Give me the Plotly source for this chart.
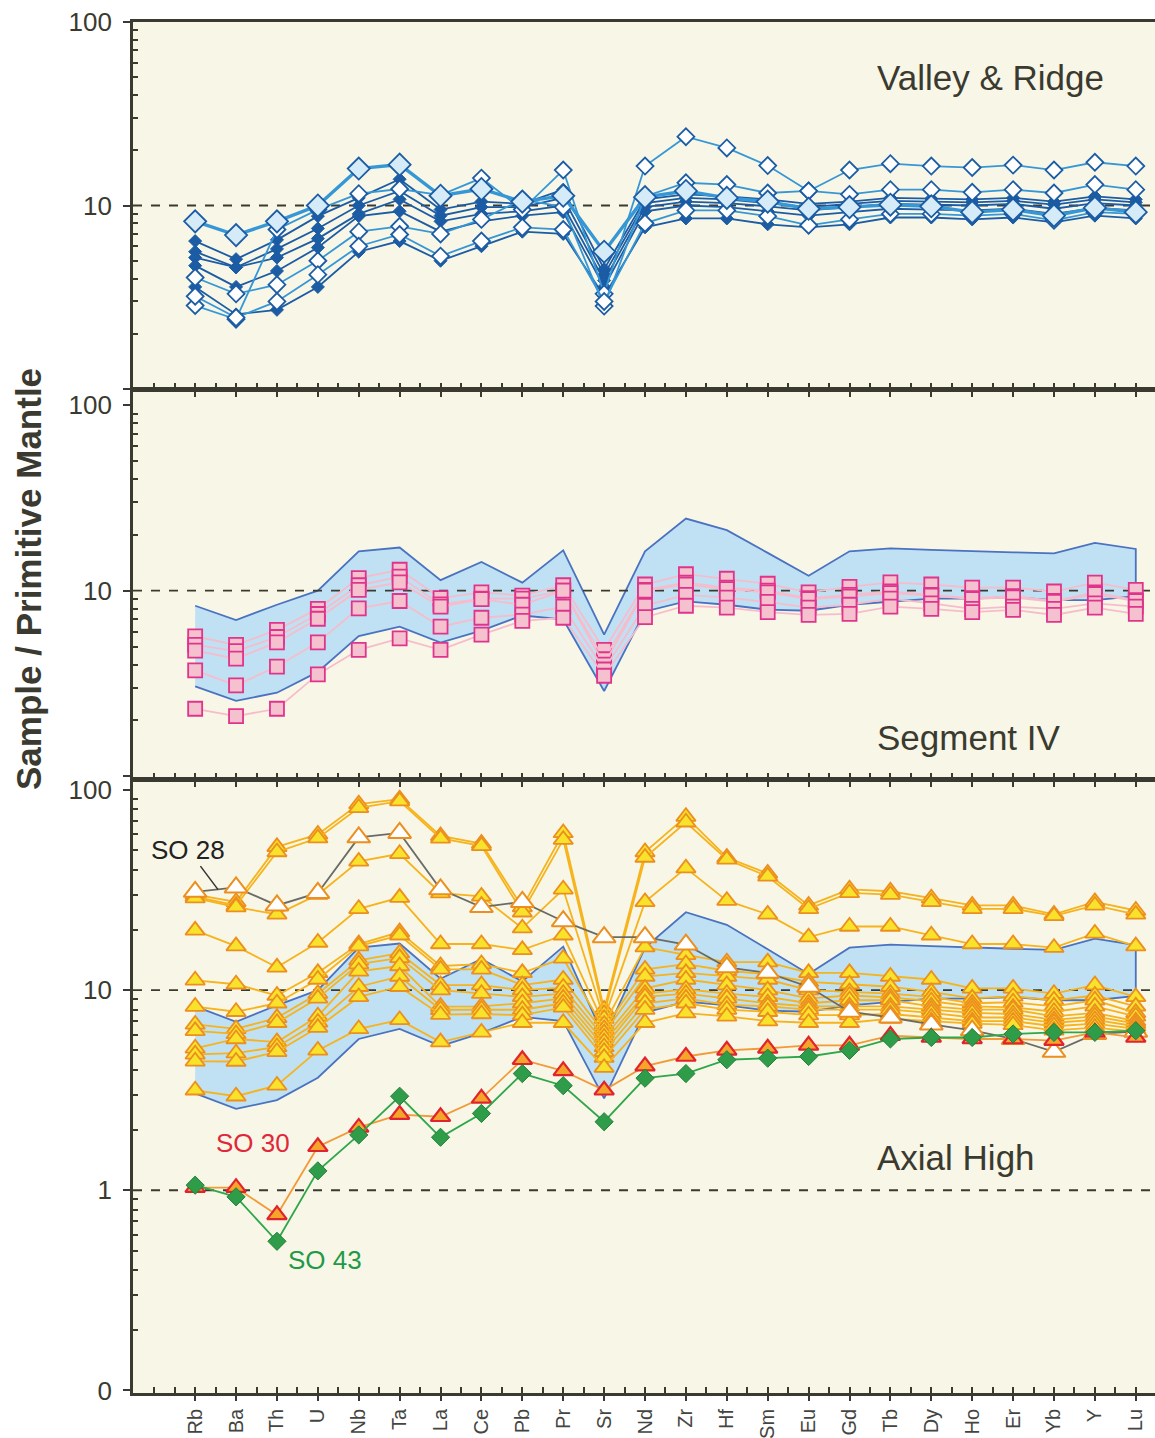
import numpy as np
import plotly.graph_objects as go

# ---------------------------------------------------------------- data
ELEMENTS = ["Rb", "Ba", "Th", "U", "Nb", "Ta", "La", "Ce", "Pb", "Pr", "Sr", "Nd",
            "Zr", "Hf", "Sm", "Eu", "Gd", "Tb", "Dy", "Ho", "Er", "Yb", "Y", "Lu"]

# Valley & Ridge: shaded-diamond sample
VR_SHADED = [8.2, 6.9, 8.2, 10.0, 15.9, 16.7, 11.3, 12.3, 10.5, 11.3, 5.6, 11.1,
             12.0, 11.0, 10.5, 9.6, 9.8, 10.1, 9.9, 9.2, 9.5, 8.8, 9.7, 9.2]

# Valley & Ridge: open-diamond samples
VR_OPEN = [
    [2.85, 2.4, 7.4, 9.5, 11.6, 12.3, 11.4, 14.1, 9.5, 15.6, 3.3, 16.4,
     23.7, 20.6, 16.5, 12.0, 15.6, 16.9, 16.4, 16.1, 16.6, 15.6, 17.2, 16.4],
    [4.05, 3.3, 3.7, 5.0, 7.2, 7.7, 7.0, 8.4, 10.8, 9.8, 2.83, 11.2,
     13.3, 13.0, 11.7, 12.0, 11.5, 12.2, 12.2, 11.8, 12.2, 11.7, 13.0, 12.2],
    [3.2, 2.45, 3.0, 4.2, 6.0, 6.95, 5.3, 6.4, 7.6, 7.4, 3.0, 8.0,
     9.4, 9.4, 8.75, 7.8, 8.4, 9.0, 9.0, 8.8, 9.0, 8.3, 9.2, 9.0],
]

# Valley & Ridge: solid-diamond samples
VR_SOLID = [
    [6.4, 5.1, 6.5, 8.75, 11.0, 13.9, 9.5, 10.5, 10.2, 12.2, 4.5, 10.8,
     11.5, 11.2, 10.8, 10.2, 10.5, 11.0, 10.9, 10.8, 11.0, 10.5, 11.2, 10.8],
    [5.6, 4.6, 5.8, 7.5, 10.0, 12.0, 8.8, 9.8, 9.8, 11.0, 4.2, 10.3,
     11.0, 10.8, 10.3, 9.8, 10.2, 10.6, 10.5, 10.4, 10.6, 10.1, 10.8, 10.4],
    [5.2, 4.6, 5.2, 6.6, 9.0, 10.8, 8.2, 9.0, 9.3, 10.0, 3.9, 9.8,
     10.5, 10.3, 9.9, 9.4, 9.8, 10.2, 10.1, 10.0, 10.2, 9.6, 10.3, 10.0],
    [4.7, 3.6, 4.4, 5.9, 8.75, 9.3, 7.2, 8.2, 8.8, 9.2, 3.6, 9.3,
     10.0, 9.8, 9.3, 8.8, 9.2, 9.6, 9.5, 9.4, 9.6, 9.0, 9.7, 9.4],
    [3.6, 2.55, 2.7, 3.6, 5.6, 6.4, 5.0, 6.0, 7.2, 7.0, 3.2, 7.6,
     8.5, 8.5, 7.9, 7.6, 7.9, 8.6, 8.6, 8.4, 8.6, 8.1, 8.8, 8.5],
]

# Valley & Ridge range (shaded field in the lower two panels)
FIELD_HIGH = [8.3, 6.95, 8.4, 10.0, 16.3, 17.1, 11.4, 14.3, 11.05, 16.5, 5.8, 16.3,
              24.5, 21.2, 16.0, 12.05, 16.3, 16.9, 16.6, 16.3, 16.1, 15.9, 18.1, 16.8]
FIELD_LOW = [3.05, 2.55, 2.82, 3.65, 5.7, 6.4, 5.25, 6.1, 7.35, 7.0, 2.88, 7.73,
             8.77, 8.4, 7.9, 7.8, 8.4, 8.7, 9.06, 9.06, 9.24, 8.9, 8.9, 9.35]

# Segment IV samples
SEG4 = [
    [5.68, 5.1, 6.15, 7.98, 11.7, 12.97, 9.13, 9.8, 9.4, 10.7, 4.8, 10.8,
     12.27, 11.6, 10.9, 9.8, 10.5, 11.1, 10.8, 10.4, 10.4, 9.9, 11.05, 10.1],
    [5.1, 4.72, 5.63, 7.49, 10.7, 11.9, 8.44, 9.06, 9.06, 10.0, 4.27, 10.1,
     11.05, 10.4, 10.0, 9.13, 9.5, 9.9, 9.5, 9.13, 9.35, 8.8, 9.8, 8.9],
    [4.75, 4.3, 5.27, 7.06, 10.1, 11.1, 8.2, 9.0, 8.4, 10.0, 4.0, 10.0,
     10.8, 10.2, 9.8, 9.0, 9.3, 9.7, 9.4, 9.0, 9.2, 8.7, 9.6, 8.8],
    [3.72, 3.09, 3.9, 5.27, 8.04, 8.8, 6.4, 7.15, 7.43, 8.2, 3.76, 8.3,
     9.5, 9.17, 8.7, 8.1, 8.4, 9.06, 8.54, 7.98, 8.2, 7.98, 8.54, 8.2],
    [2.31, 2.11, 2.31, 3.54, 4.8, 5.53, 4.8, 5.8, 6.87, 7.15, 3.48, 7.2,
     8.3, 8.1, 7.67, 7.4, 7.5, 8.2, 7.98, 7.67, 7.89, 7.4, 8.1, 7.5],
]

# Axial High samples
AXIAL = [
    [30.0, 27.6, 52, 60, 85, 90, 59, 54, 26, 61, 8.0, 49,
     73.6, 46, 38.3, 26.5, 31.9, 31.2, 28.8, 26.5, 26.5, 23.9, 27.6, 25],
    [29.3, 26.5, 49, 57.5, 81.5, 88, 57.3, 52.6, 24.5, 56.5, 7.6, 46,
     69, 45, 37, 25.5, 30.6, 30, 27.6, 25.5, 25.5, 23.5, 26.5, 23.9],
    [28.8, 26.0, 23.9, 30, 44, 48, 30.5, 29.4, 20.4, 31.9, 7.2, 27.6,
     40.7, 28, 23.9, 18.4, 20.8, 20.8, 18.8, 17.0, 17.0, 16.3, 19.2, 16.6],
    [19.9, 16.6, 13.0, 17.3, 25.5, 29, 17, 17, 15.9, 18.8, 6.74, 16.4,
     15, 13.8, 13.8, 12.2, 12.2, 11.7, 11.3, 10.2, 10.2, 9.6, 10.6, 9.25],
    [11.2, 10.7, 9.4, 12.2, 17.0, 19.5, 13.2, 13.5, 12.2, 14.4, 6.4, 12.7,
     13.5, 12.5, 12.0, 11.0, 10.7, 10.4, 9.8, 9.1, 9.3, 8.9, 9.4, 8.3],
    [8.28, 7.8, 8.6, 11.3, 16.6, 18.8, 12.7, 12.7, 10.6, 11.3, 6.1, 11.7,
     12.2, 11.7, 11.3, 10.0, 9.8, 9.6, 9.25, 8.6, 8.7, 8.3, 8.9, 7.7],
    [6.74, 6.4, 7.27, 9.6, 14.1, 15.3, 10.6, 10.6, 10.0, 10.3, 5.8, 10.2,
     11.3, 10.6, 10.0, 9.1, 9.4, 9.2, 8.8, 8.3, 8.2, 7.8, 8.3, 7.4],
    [6.26, 6.04, 6.87, 9.1, 13.5, 14.5, 10.0, 9.6, 9.25, 9.6, 5.5, 9.6,
     10.1, 9.6, 9.25, 8.6, 8.9, 8.9, 8.3, 8.0, 8.0, 7.4, 7.7, 7.0],
    [5.12, 5.7, 5.5, 7.4, 12.4, 13.2, 8.28, 8.3, 8.6, 9.1, 5.2, 9.25,
     9.6, 9.1, 8.6, 8.3, 8.3, 8.3, 8.0, 7.7, 7.6, 7.1, 7.4, 6.8],
    [4.78, 4.84, 5.2, 6.9, 10.4, 11.7, 7.98, 8.0, 7.98, 8.6, 4.92, 8.6,
     9.1, 8.45, 8.3, 8.0, 8.0, 8.0, 7.7, 7.3, 7.3, 6.87, 7.1, 6.6],
    [4.41, 4.4, 4.92, 6.5, 9.25, 10.4, 7.54, 7.6, 7.5, 8.2, 4.6, 8.0,
     8.6, 8.0, 7.8, 7.5, 7.5, 7.6, 7.3, 7.0, 7.0, 6.6, 6.8, 6.4],
    [3.16, 2.95, 3.34, 5.0, 6.4, 7.1, 5.5, 6.15, 6.87, 6.87, 4.1, 6.87,
     7.67, 7.4, 7.0, 6.87, 6.87, 7.2, 7.0, 6.8, 6.7, 6.3, 6.5, 6.2],
]

SO28 = [31.0, 32.6, 26.5, 30.6, 58, 61, 31.9, 26.0, 27.6, 22.1, 18.4, 18.4,
        16.9, 13.0, 12.2, 10.4, 7.8, 7.3, 6.74, 6.3, 5.7, 4.92, 6.04, 6.2]
SO30 = [1.03, 1.03, 0.753, 1.65, 2.06, 2.39, 2.33, 2.88, 4.49, 3.95, 3.16, 4.17,
        4.66, 5.0, 5.12, 5.3, 5.3, 5.93, 5.8, 5.7, 5.7, 5.6, 6.15, 5.8]
SO43 = [1.06, 0.927, 0.556, 1.25, 1.89, 2.95, 1.84, 2.42, 3.83, 3.33, 2.2, 3.63,
        3.83, 4.49, 4.57, 4.66, 5.0, 5.7, 5.8, 5.8, 6.04, 6.15, 6.15, 6.27]

# ---------------------------------------------------------------- style
W, H = 1155, 1438
ML, MR, MT, MB = 133, 0, 22, 45
X_RANGE = [-1.52, 23.47]
FONT = "Liberation Sans, Arial, Helvetica, sans-serif"
INK = "#3a3a30"
BG = "#f8f6e6"

DARK_BLUE = "#1b5ca4"
MID_BLUE = "#3697d6"
PALE_BLUE = "#d5ebf7"
FIELD_FILL = "#bfe1f3"
FIELD_EDGE = "#4a72c0"
PINK_EDGE = "#e0348c"
PINK_FILL = "#f5c1cf"
PINK_LINE = "#f7bccb"
YEL_FILL = "#f8e22c"
ORANGE_EDGE = "#ec8f1f"
YEL_LINE = "#f6b31b"

x = list(range(len(ELEMENTS)))

fig = go.Figure()


def ref_line(value, xa, ya):
    fig.add_trace(go.Scatter(
        x=X_RANGE, y=[value, value], mode="lines", xaxis=xa, yaxis=ya,
        line=dict(color=INK, width=1.8, dash="dash"), hoverinfo="skip",
        showlegend=False))


def field(xa, ya):
    fig.add_trace(go.Scatter(
        x=x + x[::-1], y=FIELD_HIGH + FIELD_LOW[::-1], mode="lines",
        fill="toself", fillcolor=FIELD_FILL, xaxis=xa, yaxis=ya,
        line=dict(color=FIELD_EDGE, width=1.8), hoverinfo="skip",
        showlegend=False))


def series(vals, xa, ya, line, marker):
    fig.add_trace(go.Scatter(
        x=x, y=vals, mode="lines+markers", xaxis=xa, yaxis=ya,
        line=line, marker=marker, showlegend=False, cliponaxis=False))


# ---- top panel: Valley & Ridge
ref_line(10, "x", "y")
for s in VR_SOLID:
    series(s, "x", "y", dict(color=DARK_BLUE, width=1.8),
           dict(symbol="diamond", size=10, color=DARK_BLUE,
                line=dict(color=DARK_BLUE, width=1)))
for s in VR_OPEN:
    series(s, "x", "y", dict(color=MID_BLUE, width=1.8),
           dict(symbol="diamond", size=13, color="white",
                line=dict(color=DARK_BLUE, width=1.8)))
series(VR_SHADED, "x", "y", dict(color=MID_BLUE, width=3.4),
       dict(symbol="diamond", size=17, color=PALE_BLUE,
            line=dict(color=DARK_BLUE, width=1.8)))

# ---- middle panel: Segment IV
field("x2", "y2")
ref_line(10, "x2", "y2")
for s in SEG4:
    series(s, "x2", "y2", dict(color=PINK_LINE, width=1.8),
           dict(symbol="square", size=14, color=PINK_FILL,
                line=dict(color=PINK_EDGE, width=1.8)))

# ---- bottom panel: Axial High
field("x3", "y3")
ref_line(10, "x3", "y3")
ref_line(1, "x3", "y3")
for s in AXIAL:
    series(s, "x3", "y3", dict(color=YEL_LINE, width=1.8),
           dict(symbol="triangle-up", size=17, color=YEL_FILL,
                line=dict(color=ORANGE_EDGE, width=1.8)))
series(SO28, "x3", "y3", dict(color="#6a6a66", width=1.8),
       dict(symbol="triangle-up", size=20, color="white",
            line=dict(color=ORANGE_EDGE, width=2)))
series(SO30, "x3", "y3", dict(color="#f29a35", width=1.8),
       dict(symbol="triangle-up", size=17, color="#f5a52a",
            line=dict(color="#e0242f", width=2.2)))
series(SO43, "x3", "y3", dict(color="#2ea64a", width=1.8),
       dict(symbol="diamond", size=14, color="#2e9c48",
            line=dict(color="#23803a", width=1)))

# ---------------------------------------------------------------- axes
plot_h = H - MT - MB


def frac(py):
    return (H - MB - py) / plot_h


minor_x = list(np.arange(-1, 23.5, 0.5))


def xaxis(show_labels, anchor):
    return dict(
        range=X_RANGE, anchor=anchor, showgrid=False, zeroline=False,
        showline=True, linecolor=INK, linewidth=2.8, mirror=True,
        tickmode="array", tickvals=x, ticktext=ELEMENTS,
        ticks="outside", ticklen=5, tickwidth=1.8, tickcolor=INK,
        showticklabels=show_labels, tickangle=-90,
        tickfont=dict(family=FONT, size=20, color="#444440"),
        minor=dict(tickmode="array", tickvals=minor_x, ticks="inside",
                   ticklen=6, tickwidth=1.8, tickcolor=INK),
    )


def minor_log(lo, hi):
    vals = []
    for d in range(lo, hi):
        for m in range(2, 10):
            vals.append(m * 10 ** d)
    return vals


def yaxis(dom, rng, tickvals, ticktext, lo, hi):
    return dict(
        type="log", domain=dom, range=rng, showgrid=False, zeroline=False,
        showline=True, linecolor=INK, linewidth=2.8,
        tickmode="array", tickvals=tickvals, ticktext=ticktext,
        ticks="outside", ticklen=7, tickwidth=2, tickcolor=INK,
        ticklabelstandoff=6,
        tickfont=dict(family=FONT, size=26, color=INK),
        minor=dict(tickmode="array", tickvals=minor_log(lo, hi),
                   ticks="inside", ticklen=5, tickwidth=1.8, tickcolor=INK),
    )


fig.update_layout(
    width=W, height=H,
    margin=dict(l=ML, r=MR, t=MT, b=MB),
    paper_bgcolor="white", plot_bgcolor=BG,
    showlegend=False,
    xaxis=xaxis(False, "y"),
    xaxis2=xaxis(False, "y2"),
    xaxis3=xaxis(True, "y3"),
    yaxis=yaxis([frac(389), 1.0], [0, 2], [1, 10, 100], ["", "10", "100"], 0, 2),
    yaxis2=yaxis([frac(779), frac(390)], [-0.015, 2.082], [1, 10, 100],
                 ["", "10", "100"], 0, 3),
    yaxis3=yaxis([0.0, frac(780)], [-1.013, 2.05], [0.1, 1, 10, 100],
                 ["0", "1", "10", "100"], -1, 3),
)


def px_x(px):
    return (px - ML) / (W - ML - MR)


ann = [
    dict(text="<b>Sample / Primitive Mantle</b>", x=px_x(28), y=frac(579),
         textangle=-90, font=dict(family=FONT, size=35, color=INK),
         xanchor="center", yanchor="middle"),
    dict(text="Valley & Ridge", x=px_x(875), y=frac(77),
         font=dict(family=FONT, size=35, color=INK),
         xanchor="left", yanchor="middle"),
    dict(text="Segment IV", x=px_x(875), y=frac(737),
         font=dict(family=FONT, size=35, color=INK),
         xanchor="left", yanchor="middle"),
    dict(text="Axial High", x=px_x(875), y=frac(1157),
         font=dict(family=FONT, size=35, color=INK),
         xanchor="left", yanchor="middle"),
    dict(text="SO 30", x=px_x(253), y=frac(1143),
         font=dict(family=FONT, size=26, color="#e0283a"),
         xanchor="center", yanchor="middle"),
    dict(text="SO 43", x=px_x(325), y=frac(1260),
         font=dict(family=FONT, size=26, color="#1f9a48"),
         xanchor="center", yanchor="middle"),
]
for a in ann:
    a.update(xref="paper", yref="paper", showarrow=False)
fig.update_layout(annotations=ann)

# leader from the SO 28 label to its profile
fig.add_annotation(
    text="SO 28", xref="x3", yref="y3", x=0.56,
    y=float(np.log10(np.sqrt(SO28[0] * SO28[1]))),
    ax=-30, ay=-40, showarrow=True, arrowhead=0, arrowwidth=1.5,
    arrowcolor="#333333", font=dict(family=FONT, size=26, color="#222222"))

fig.write_html("out.html")
